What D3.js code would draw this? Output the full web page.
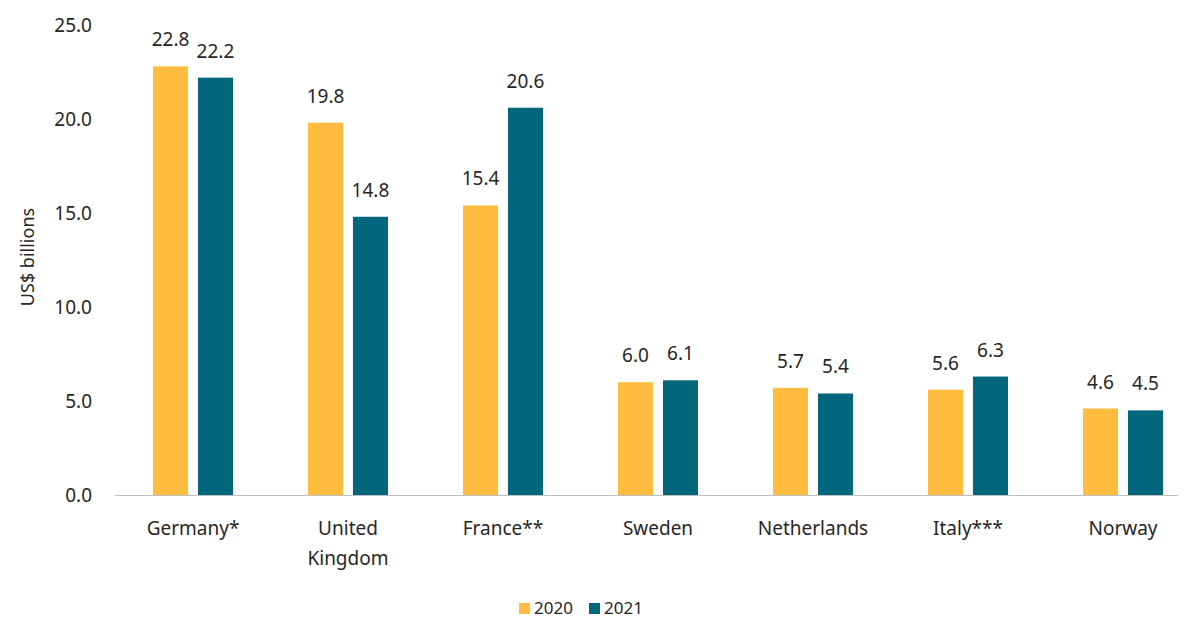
<!DOCTYPE html>
<html><head><meta charset="utf-8">
<script src="https://cdn.jsdelivr.net/npm/d3@7"></script>
<style>body{margin:0;background:#fff}svg{display:block}text{font-family:"Noto Sans",Roboto,sans-serif;fill:#262626}</style>
</head><body><svg id="c" width="1185" height="622"></svg>
<script>
const categories = [["Germany*"],["United","Kingdom"],["France**"],["Sweden"],["Netherlands"],["Italy***"],["Norway"]];
const series = ["2020","2021"];
const values2020 = [22.8,19.8,15.4,6.0,5.7,5.6,4.6];
const values2021 = [22.2,14.8,20.6,6.1,5.4,6.3,4.5];
const yTicks = [0,5,10,15,20,25];
const colors = ["#FFBC3E","#02677D"];

const svg = d3.select("#c");
const keys = categories.map((c,i)=>i);
const x = d3.scaleBand().domain(keys).range([115.5,1200.5]).paddingInner(0).paddingOuter(0);
const y = d3.scaleLinear().domain([0,25]).range([495,25]);
const x1 = d3.scaleBand().domain(series).range([x.bandwidth()/2-40, x.bandwidth()/2+40]).paddingInner(0.22);

svg.append("g").selectAll("text").data(yTicks).join("text")
  .attr("x",92).attr("y",d=>y(d)).attr("dy","0.35em").attr("text-anchor","end")
  .style("font-size","19px").text(d=>d.toFixed(1));

svg.append("text").attr("transform","translate(28,257) rotate(-90)")
  .attr("dy","0.35em").attr("text-anchor","middle").style("font-size","18px").text("US$ billions");

svg.append("line").attr("x1",115).attr("x2",1178).attr("y1",y(0)+0.5).attr("y2",y(0)+0.5)
  .attr("stroke","#bfbfbf").attr("stroke-width",1.2);

const data = keys.map(i=>({i, vals:[values2020[i],values2021[i]]}));
const g = svg.append("g").selectAll("g").data(data).join("g")
  .attr("transform",d=>`translate(${x(d.i)},0)`);
g.selectAll("rect").data(d=>d.vals.map((v,j)=>({v,s:series[j],j}))).join("rect")
  .attr("x",d=>x1(d.s)).attr("width",x1.bandwidth())
  .attr("y",d=>y(d.v)).attr("height",d=>y(0)-y(d.v))
  .attr("fill",d=>colors[d.j]);
g.selectAll("text.v").data(d=>d.vals.map((v,j)=>({v,s:series[j],j}))).join("text")
  .attr("class","v").attr("x",d=>x1(d.s)+x1.bandwidth()/2).attr("y",d=>y(d.v)-20)
  .attr("text-anchor","middle").style("font-size","19px").text(d=>d.v.toFixed(1));

svg.append("g").selectAll("text").data(keys).join("text")
  .attr("x",d=>x(d)+x.bandwidth()/2).attr("y",535).attr("text-anchor","middle")
  .style("font-size","19px")
  .each(function(d){
    const t=d3.select(this);
    categories[d].forEach((line,k)=>t.append("tspan").attr("x",x(d)+x.bandwidth()/2).attr("dy",k?30:0).text(line));
  });

const lg = svg.append("g");
const lx=[519,589];
series.forEach((s,j)=>{
  lg.append("rect").attr("x",lx[j]).attr("y",603).attr("width",11).attr("height",11).attr("fill",colors[j]);
  lg.append("text").attr("x",lx[j]+15).attr("y",608).attr("dy","0.35em").style("font-size","17px").text(s);
});
</script></body></html>
